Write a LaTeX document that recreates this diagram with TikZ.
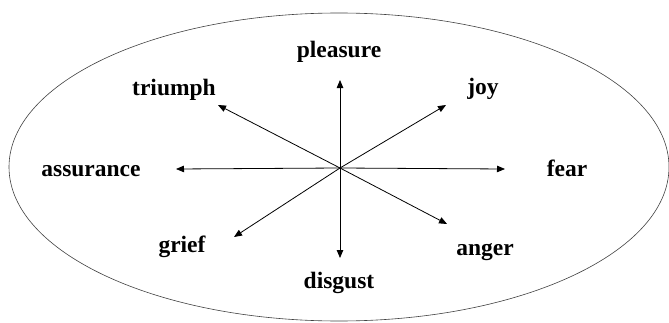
\documentclass[tikz,border=0pt]{standalone}
\usepackage{fontspec}
\setmainfont{Liberation Serif}
\usetikzlibrary{arrows.meta}

\begin{document}
\begin{tikzpicture}[
    x=1pt, y=1pt,
    > = {Triangle[length=8pt, width=6.5pt]},
    thick,
    word/.style={font=\fontsize{23.5}{26}\selectfont\bfseries, anchor=base, inner sep=0pt}
]
\useasboundingbox (0,0) rectangle (669,322);

% --- outer ellipse ---
\draw[black!75, line width=0.6pt] (339,155) ellipse [x radius=330, y radius=154];

% --- centre and arrow ends ---
\coordinate (o) at (340,154);
\coordinate (up) at (340,242);
\coordinate (down) at (340,64);
\coordinate (left) at (176,153);
\coordinate (right) at (505,153);
\coordinate (ul) at (218,217);
\coordinate (ur) at (446,217);
\coordinate (dl) at (234,85);
\coordinate (dr) at (447,98);

\foreach \e in {up, down, left, right, ul, ur, dl, dr}
    \draw[->] (o) -- (\e);

% --- labels ---
\node[word] (pleasure) at (339,264) {pleasure};
\node[word] (triumph) at (174,227) {triumph};
\node[word] (joy) at (483,228) {joy};
\node[word] (assurance) at (91,146) {assurance};
\node[word] (fear) at (567,146) {fear};
\node[word] (grief) at (182,70) {grief};
\node[word] (anger) at (485,67) {anger};
\node[word] (disgust) at (339,34) {disgust};

\end{tikzpicture}
\end{document}
